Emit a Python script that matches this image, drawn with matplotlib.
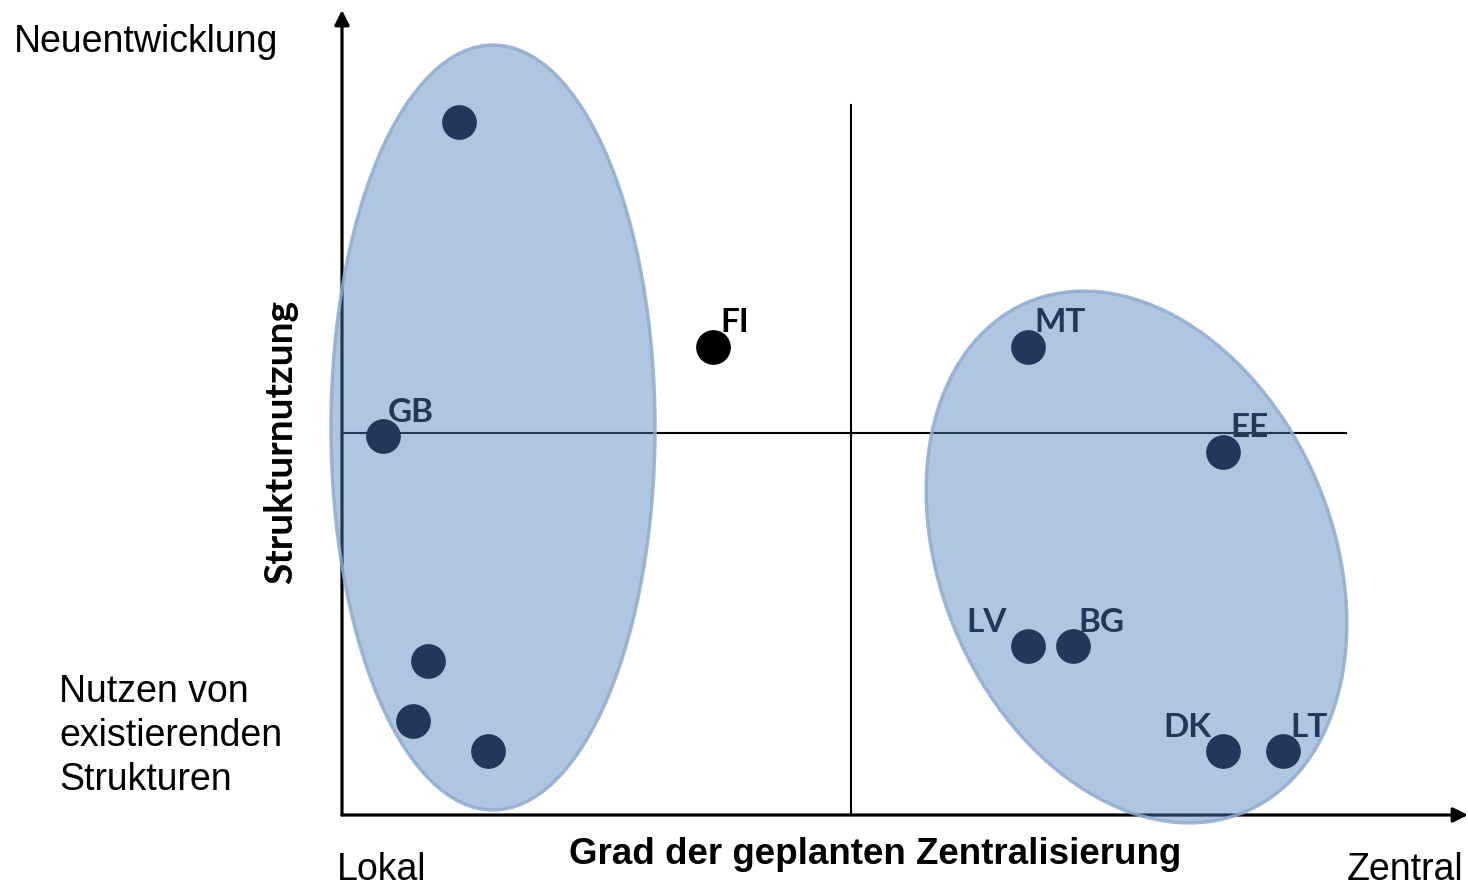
import matplotlib
matplotlib.use("Agg")
import matplotlib.pyplot as plt
from matplotlib.patches import Ellipse

# ---------------------------------------------------------------
#  Daten (Einheiten: 1 = 100 px im Original, Ursprung = Achsenkreuz)
# ---------------------------------------------------------------
labels  = ["", "GB", "", "", "", "FI", "MT", "EE", "LV", "BG", "DK", "LT"]
x_vals  = [1.17, 0.41, 0.86, 0.71, 1.46, 3.71, 6.86, 8.81, 6.86, 7.31, 8.81, 9.41]
y_vals  = [6.93, 3.79, 1.54, 0.94, 0.64, 4.68, 4.68, 3.63, 1.69, 1.69, 0.64, 0.64]

# Cluster-Ellipsen: Mitte x, Mitte y, Breite, Höhe, Winkel
ell_cx    = [1.51, 7.945]
ell_cy    = [3.875, 2.58]
ell_w     = [3.24, 3.91]
ell_h     = [7.65, 5.54]
ell_angle = [0.0, 23.3]

# Quadrantenlinien
v_line_x, v_line_top = 5.09, 7.10
h_line_y, h_line_right = 3.82, 10.04

X_MAX, Y_MAX = 11.26, 8.05

NAVY = "#22375a"
BLUE = (0.31, 0.506, 0.741)

# Textversatz der Länderkürzel (Pixel relativ zum Punkt)
offsets = {"GB": (5, 14, "left"), "FI": (7, 15, "left"), "MT": (6, 15, "left"),
           "EE": (7, 15, "left"), "LV": (-21, 14, "right"), "BG": (5, 14, "left"),
           "DK": (-12, 14, "right"), "LT": (7, 14, "left")}

fig = plt.figure(figsize=(14.68, 8.86), dpi=100)
ax = fig.add_axes([342 / 1468, 71 / 886, 1126 / 1468, 805 / 886])
ax.set_xlim(0, X_MAX)
ax.set_ylim(0, Y_MAX)
ax.axis("off")

# Achsen mit Pfeilen
arrow = dict(arrowstyle="-|>", lw=2.3, color="black", mutation_scale=22,
             shrinkA=0, shrinkB=0)
ax.annotate("", xy=(X_MAX, 0), xytext=(0, 0), arrowprops=arrow,
            annotation_clip=False, zorder=1)
ax.annotate("", xy=(0, Y_MAX), xytext=(0, 0), arrowprops=arrow,
            annotation_clip=False, zorder=1)

# Quadranten
ax.plot([v_line_x, v_line_x], [0, v_line_top], color="black", lw=1.5, zorder=1)
ax.plot([0, h_line_right], [h_line_y, h_line_y], color="black", lw=1.5, zorder=1)

# Ellipsen
for cx, cy, w, h, ang in zip(ell_cx, ell_cy, ell_w, ell_h, ell_angle):
    ax.add_patch(Ellipse((cx, cy), w, h, angle=ang,
                         facecolor=BLUE + (0.45,), edgecolor=(0.56, 0.67, 0.81, 0.85),
                         lw=2.5, zorder=2, clip_on=False))

# Punkte + Kürzel
for lab, x, y in zip(labels, x_vals, y_vals):
    col = "black" if lab == "FI" else NAVY
    ax.plot(x, y, "o", ms=25, color=col, mec="none", zorder=3, clip_on=False)
    if lab:
        dx, dy, ha = offsets[lab]
        ax.annotate(lab, xy=(x, y), xytext=(dx, dy), textcoords="offset pixels",
                    ha=ha, va="baseline", fontsize=24, fontweight="bold",
                    family="Lato", color=col, zorder=4)

# Beschriftungen
arial = ["Liberation Sans", "DejaVu Sans"]
fig.text(14 / 1468, 1 - 42 / 886, "Neuentwicklung", fontsize=27,
         family=arial, ha="left", va="center")
fig.text(59 / 1468, 1 - 736 / 886, "Nutzen von\nexistierenden\nStrukturen",
         fontsize=27, family=arial, ha="left", va="center", linespacing=1.29)
fig.text(337 / 1468, 1 - 880 / 886, "Lokal", fontsize=27, family=arial,
         ha="left", va="baseline")
fig.text(1463 / 1468, 1 - 880 / 886, "Zentral", fontsize=27, family=arial,
         ha="right", va="baseline")
fig.text(875 / 1468, 1 - 855 / 886, "Grad der geplanten Zentralisierung",
         fontsize=26.5, fontweight="bold", family=arial, ha="center", va="center")
fig.text(281 / 1468, 1 - 442 / 886, "Strukturnutzung", fontsize=28,
         fontweight="bold", family="Lato", rotation=90, ha="center", va="center")

fig.savefig("out.png", dpi=100)
